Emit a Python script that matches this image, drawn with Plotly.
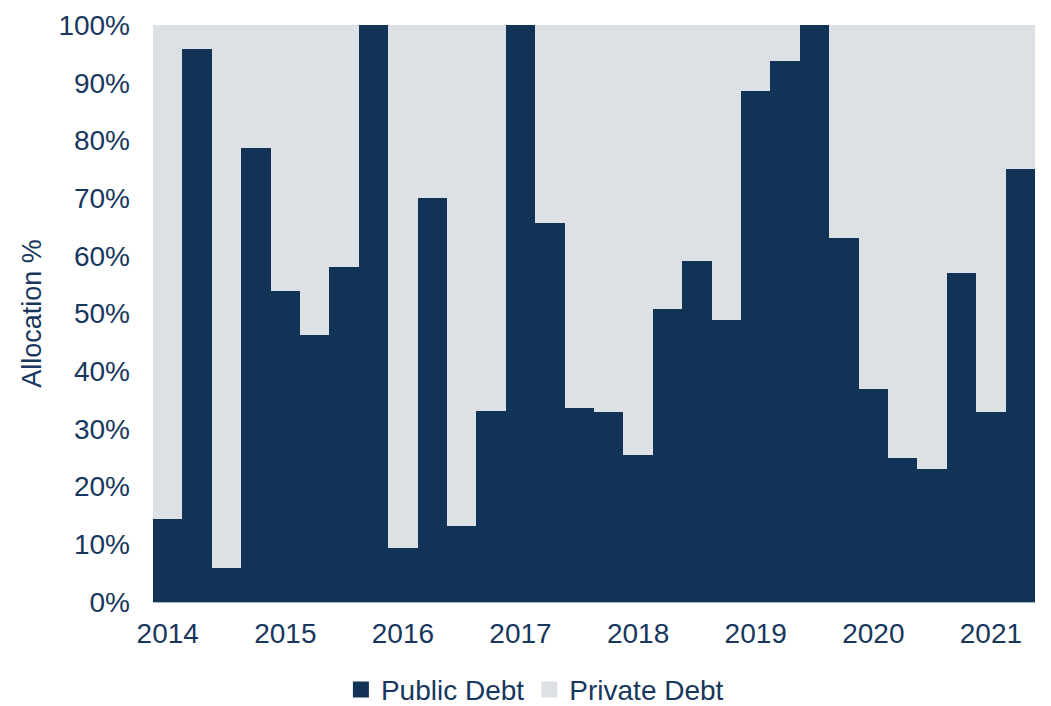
import plotly.graph_objects as go

# quarterly allocation, 2014 Q1 .. 2021 Q2
quarters = [f"{y} Q{q}" for y in range(2014, 2022) for q in range(1, 5)][:30]
public_debt = [14.3, 95.9, 5.9, 78.6, 53.9, 46.3, 58.1, 100.0,
               9.4, 70.0, 13.1, 33.1, 100.0, 65.6, 33.6, 33.0,
               25.4, 50.8, 59.1, 48.9, 88.6, 93.8, 100.0, 63.0,
               37.0, 25.0, 23.0, 57.0, 33.0, 75.0]
private_debt = [round(100 - v, 1) for v in public_debt]
year_labels = ["2014", "2015", "2016", "2017", "2018", "2019", "2020", "2021"]
y_ticks = list(range(0, 101, 10))
y_labels = [f"{v}%" for v in y_ticks]

navy = "#113456"
grey = "#DDE1E6"
text_col = "#17375E"

x = list(range(len(quarters)))

fig = go.Figure()
fig.add_trace(go.Bar(x=x, y=public_debt, name="Public Debt", hovertext=quarters,
                     marker=dict(color=navy, line=dict(width=0)),
                     showlegend=False))
fig.add_trace(go.Bar(x=x, y=private_debt, name="Private Debt", hovertext=quarters,
                     marker=dict(color=grey, line=dict(width=0)),
                     showlegend=False))

# legend entries with bigger square swatches
fig.add_trace(go.Scatter(x=[None], y=[None], mode="markers", name="Public Debt",
                         marker=dict(symbol="square", size=16, color=navy)))
fig.add_trace(go.Scatter(x=[None], y=[None], mode="markers", name="Private Debt",
                         marker=dict(symbol="square", size=16, color=grey)))

# page body has an 8px margin, so the figure is sized/shifted to compensate
fig.update_layout(
    barmode="stack",
    bargap=0,
    width=1043, height=698,
    margin=dict(l=145, r=16, t=17, b=104, autoexpand=False),
    paper_bgcolor="white",
    plot_bgcolor="white",
    font=dict(family="Liberation Sans, Arial, sans-serif", size=28, color=text_col),
    legend=dict(orientation="h", traceorder="normal", x=0.433, xanchor="center",
                y=-0.152, yanchor="middle", font=dict(size=28, color=text_col),
                itemclick=False),
    showlegend=True,
)
fig.update_xaxes(range=[-0.5, len(x) - 0.5], tickvals=x[::4], ticktext=year_labels,
                 showgrid=False, zeroline=False, showline=True, linecolor="#A9B6C6",
                 linewidth=1, ticks="", ticklabelstandoff=6, automargin=False)
fig.update_yaxes(range=[0, 100], tickvals=y_ticks, ticktext=y_labels,
                 showgrid=False, zeroline=False, showline=False, ticks="",
                 ticklabelstandoff=22, automargin=False,
                 title=dict(text="Allocation %", standoff=8, font=dict(size=27)))

fig.write_html("out.html")
